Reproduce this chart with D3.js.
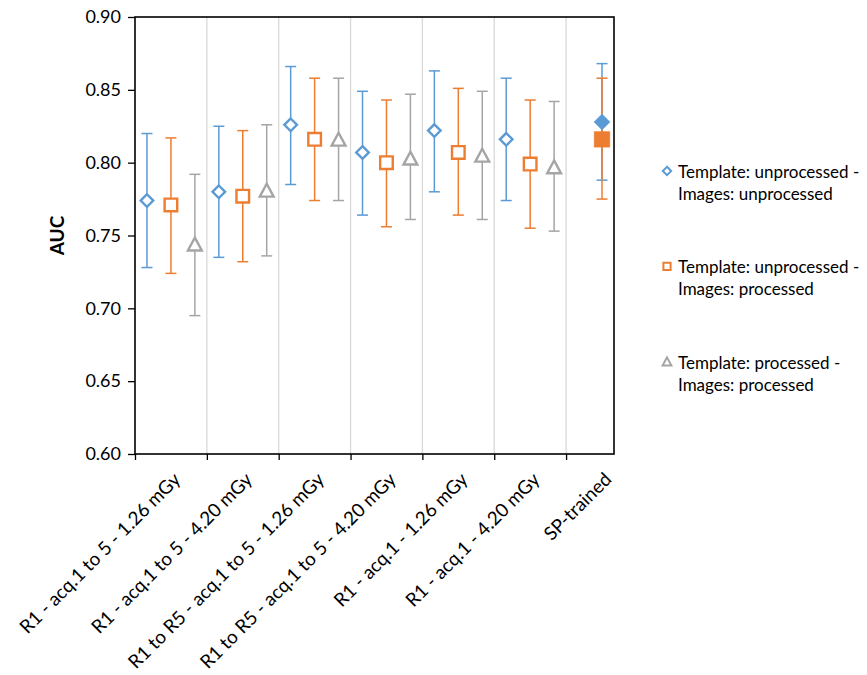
<!DOCTYPE html>
<html>
<head>
<meta charset="utf-8">
<script src="https://cdn.jsdelivr.net/npm/d3@7"></script>
<style>
  html, body { margin: 0; padding: 0; background: #fff; }
  svg { display: block; font-family: Lato, "Open Sans", sans-serif; }
</style>
</head>
<body>
<svg id="chart" width="867" height="675"></svg>
<script>
// ---- Data ----
const categories = [
  "R1 - acq.1 to 5 - 1.26 mGy",
  "R1 - acq.1 to 5 - 4.20 mGy",
  "R1 to R5 - acq.1 to 5 - 1.26 mGy",
  "R1 to R5 - acq.1 to 5 - 4.20 mGy",
  "R1 - acq.1 - 1.26 mGy",
  "R1 - acq.1 - 4.20 mGy",
  "SP-trained"
];
const seriesNames = [
  "Template: unprocessed - Images: unprocessed",
  "Template: unprocessed - Images: processed",
  "Template: processed - Images: processed"
];
const aucUU = [0.774, 0.780, 0.826, 0.807, 0.822, 0.816, 0.828];
const loUU  = [0.728, 0.735, 0.785, 0.764, 0.780, 0.774, 0.788];
const hiUU  = [0.820, 0.825, 0.866, 0.849, 0.863, 0.858, 0.868];

const aucUP = [0.771, 0.777, 0.816, 0.800, 0.807, 0.799, 0.816];
const loUP  = [0.724, 0.732, 0.774, 0.756, 0.764, 0.755, 0.775];
const hiUP  = [0.817, 0.822, 0.858, 0.843, 0.851, 0.843, 0.858];

const aucPP = [0.744, 0.781, 0.816, 0.803, 0.805, 0.797, null];
const loPP  = [0.695, 0.736, 0.774, 0.761, 0.761, 0.753, null];
const hiPP  = [0.792, 0.826, 0.858, 0.847, 0.849, 0.842, null];

const yTicks = [0.60, 0.65, 0.70, 0.75, 0.80, 0.85, 0.90];

// ---- Layout ----
const colors = ["#5B9BD5", "#ED7D31", "#A5A5A5"];
const shapes = ["diamond", "square", "triangle"];
const pLeft = 135, pRight = 614, pTop = 17, pBottom = 454;
const xMax = 6.667;

const svg = d3.select("#chart");
const x = d3.scaleLinear().domain([0, xMax]).range([pLeft, pRight]);
const y = d3.scaleLinear().domain([0.6, 0.9]).range([pBottom, pTop]);

const series = [
  { name: seriesNames[0], auc: aucUU, lo: loUU, hi: hiUU },
  { name: seriesNames[1], auc: aucUP, lo: loUP, hi: hiUP },
  { name: seriesNames[2], auc: aucPP, lo: loPP, hi: hiPP }
];
const nGroups = categories.length;
function xPos(i, j) {
  // last category (SP-trained) has all series at its centre
  return i < nGroups - 1 ? i + (2 * j + 1) / 6 : i + 0.5;
}

// vertical gridlines
svg.append("g").selectAll("line")
  .data(d3.range(1, nGroups))
  .join("line")
  .attr("x1", d => x(d)).attr("x2", d => x(d))
  .attr("y1", pTop).attr("y2", pBottom)
  .attr("stroke", "#D9D9D9").attr("stroke-width", 1.3);

// axes
const yAxis = d3.axisLeft(y).tickValues(yTicks).tickFormat(d3.format(".2f")).tickSize(7).tickPadding(7);
const gy = svg.append("g").attr("transform", `translate(${pLeft},0)`).call(yAxis);
gy.select(".domain").remove();
gy.selectAll(".tick line").attr("stroke", "#000").attr("stroke-width", 1.3);
gy.selectAll(".tick text").attr("font-size", 18).attr("fill", "#000").attr("font-family", "Lato");

const xAxis = d3.axisBottom(x).tickValues(d3.range(0, nGroups)).tickSize(6).tickFormat("");
const gx = svg.append("g").attr("transform", `translate(0,${pBottom})`).call(xAxis);
gx.select(".domain").remove();
gx.selectAll(".tick line").attr("stroke", "#000").attr("stroke-width", 1.3);

// plot border
svg.append("rect")
  .attr("x", pLeft).attr("y", pTop)
  .attr("width", pRight - pLeft).attr("height", pBottom - pTop)
  .attr("fill", "none").attr("stroke", "#000").attr("stroke-width", 1.6);

// x labels at category centres
svg.append("g").selectAll("text")
  .data(categories)
  .join("text")
  .attr("transform", (d, i) => `translate(${x(i + 0.5) + 6},${pBottom + 22}) rotate(-45)`)
  .attr("text-anchor", "end")
  .attr("dy", "0.35em")
  .attr("font-size", 18.8)
  .attr("fill", "#000")
  .text(d => d);

// y title
svg.append("text")
  .attr("transform", `translate(64,${(pTop + pBottom) / 2}) rotate(-90)`)
  .attr("text-anchor", "middle")
  .attr("font-size", 19)
  .attr("font-weight", "bold")
  .text("AUC");

// marker path generator
function markerPath(shape, s) {
  if (shape === "diamond") return `M0,${-s}L${s},0L0,${s}L${-s},0Z`;
  if (shape === "square") return `M${-s},${-s}H${s}V${s}H${-s}Z`;
  const h = s * 1.0;
  return `M0,${-h}L${s * 1.05},${h * 0.95}L${-s * 1.05},${h * 0.95}Z`;
}

// error bars
series.forEach((s, j) => {
  const pts = s.auc.map((v, i) => ({ i, v, lo: s.lo[i], hi: s.hi[i] })).filter(p => p.v != null);
  const g = svg.append("g");
  const eb = g.selectAll("g.eb").data(pts).join("g").attr("class", "eb");
  eb.append("line")
    .attr("x1", p => x(xPos(p.i, j))).attr("x2", p => x(xPos(p.i, j)))
    .attr("y1", p => y(p.lo)).attr("y2", p => y(p.hi))
    .attr("stroke", colors[j]).attr("stroke-width", 1.5);
  ["lo", "hi"].forEach(k => {
    eb.append("line")
      .attr("x1", p => x(xPos(p.i, j)) - 5.5).attr("x2", p => x(xPos(p.i, j)) + 5.5)
      .attr("y1", p => y(p[k])).attr("y2", p => y(p[k]))
      .attr("stroke", colors[j]).attr("stroke-width", 1.5);
  });
});
// markers
series.forEach((s, j) => {
  const pts = s.auc.map((v, i) => ({ i, v })).filter(p => p.v != null);
  svg.append("g").selectAll("path")
    .data(pts)
    .join("path")
    .attr("transform", p => `translate(${x(xPos(p.i, j))},${y(p.v)})`)
    .attr("d", p => {
      const filled = p.i === nGroups - 1;
      if (shapes[j] === "diamond") return markerPath("diamond", filled ? 8 : 6.3);
      if (shapes[j] === "square") return markerPath("square", filled ? 7.8 : 6.3);
      return markerPath("triangle", 6.6);
    })
    .attr("fill", p => p.i === nGroups - 1 ? colors[j] : "#fff")
    .attr("stroke", colors[j])
    .attr("stroke-width", p => p.i === nGroups - 1 ? 0.5 : 2.4);
});

// legend
const legend = svg.append("g");
const legendLines = [
  ["Template: unprocessed -", "Images: unprocessed"],
  ["Template: unprocessed -", "Images: processed"],
  ["Template: processed -", "Images: processed"]
];
legendLines.forEach((lines, j) => {
  const cy = 171 + j * 95.3;
  legend.append("path")
    .attr("transform", `translate(667,${cy})`)
    .attr("d", markerPath(shapes[j], j === 1 ? 3.6 : 4.2))
    .attr("fill", "#fff")
    .attr("stroke", colors[j])
    .attr("stroke-width", 2);
  const t = legend.append("text")
    .attr("x", 678).attr("y", cy + 7)
    .attr("font-size", 17)
    .attr("fill", "#000");
  t.append("tspan").attr("x", 678).text(lines[0]);
  t.append("tspan").attr("x", 678).attr("dy", 22).text(lines[1]);
});
</script>
</body>
</html>
